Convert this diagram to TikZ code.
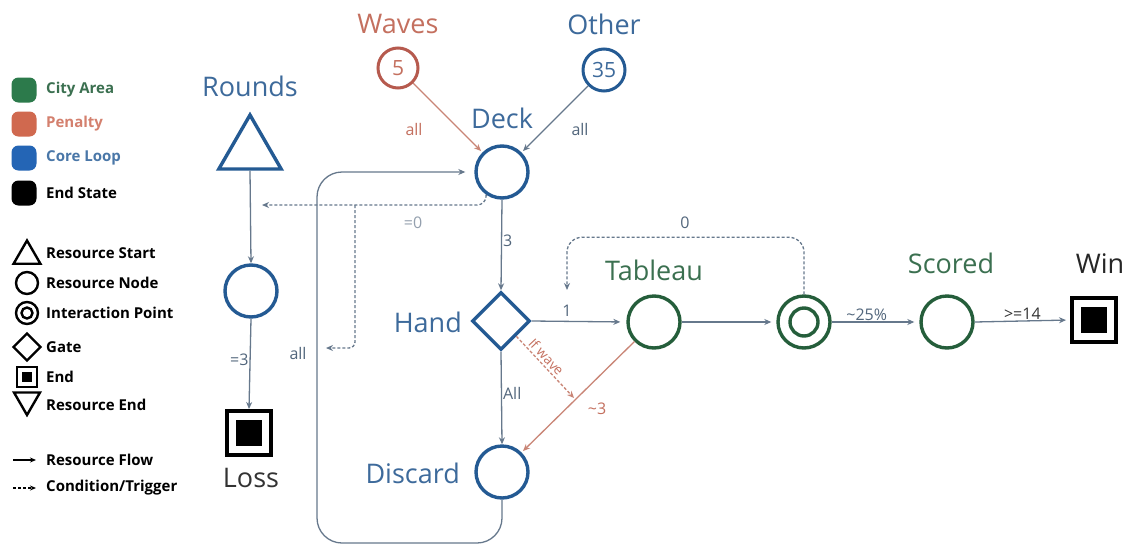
\documentclass[tikz,border=0pt]{standalone}
\usepackage{fontspec}
\setmainfont{Open Sans}
\usetikzlibrary{shapes.geometric,arrows.meta}

\definecolor{coreblue}{HTML}{245A93}
\definecolor{coretext}{HTML}{3D6A9B}
\definecolor{citygreen}{HTML}{255E3B}
\definecolor{citytext}{HTML}{3B7050}
\definecolor{penred}{HTML}{B65A4E}
\definecolor{pentext}{HTML}{C4705F}
\definecolor{flowgray}{HTML}{66788C}
\definecolor{flowtext}{HTML}{52667C}
\definecolor{penflow}{HTML}{C98576}
\definecolor{keygreen}{HTML}{2C7A4B}
\definecolor{keyred}{HTML}{D0694F}
\definecolor{keyblue}{HTML}{2465B5}
\definecolor{keytextred}{HTML}{D4806E}
\definecolor{keytextblue}{HTML}{4A77A8}

\tikzset{
  big/.style={font=\fontsize{27}{30}\selectfont, anchor=base, inner sep=0pt},
  small/.style={font=\fontsize{16}{18}\selectfont, inner sep=1pt},
  res/.style={circle, draw, line width=3.4pt, minimum size=52pt, inner sep=0pt},
  gatebox/.style={diamond, draw, line width=3.4pt, minimum size=58pt, inner sep=0pt},
  startbox/.style={regular polygon, regular polygon sides=3, draw, line width=3.4pt,
                   minimum size=72pt, inner sep=0pt},
  endbox/.style={rectangle, draw=black, line width=4pt, minimum size=44pt, inner sep=0pt,
                 path picture={\fill[black] (path picture bounding box.center)
                   ++(-13pt,-13pt) rectangle ++(26pt,26pt);}},
  flow/.style={draw=flowgray, line width=1.3pt, -{Stealth[length=7pt,width=6pt]}},
  penline/.style={draw=penflow, line width=1.3pt, -{Stealth[length=7pt,width=6pt]}},
  trig/.style={flow, dash pattern=on 3pt off 2pt},
  pentrig/.style={penline, dash pattern=on 3pt off 2pt},
  keysq/.style={rectangle, rounded corners=7pt, minimum size=25pt, inner sep=0pt},
  keytxt/.style={anchor=west, font=\bfseries\fontsize{15}{17}\selectfont, inner sep=0pt},
  keyshape/.style={draw=black, line width=2.4pt, inner sep=0pt},
}

\begin{document}
\begin{tikzpicture}[x=1pt,y=-1pt]
\useasboundingbox[fill=white] (0,0) rectangle (1131,549);

% ---------- colour key ----------
\node[keysq, fill=keygreen] (kcity) at (24,90) {};
\node[keytxt, text=citytext] (tcity) at (46,90) {City Area};
\node[keysq, fill=keyred] (kpen) at (24,124) {};
\node[keytxt, text=keytextred] (tpen) at (46,124) {Penalty};
\node[keysq, fill=keyblue] (kcore) at (24,158) {};
\node[keytxt, text=keytextblue] (tcore) at (46,158) {Core Loop};
\node[keysq, fill=black] (kend) at (24,193) {};
\node[keytxt, text=black] (tend) at (46,193) {End State};

% ---------- shape key ----------
\node[keyshape, regular polygon, regular polygon sides=3, minimum size=31pt] (kstart) at (27,256) {};
\node[keytxt] (tstart) at (46,253) {Resource Start};
\node[keyshape, circle, minimum size=22pt] (knode) at (27,283) {};
\node[keytxt] (tnode) at (46,283) {Resource Node};
\node[keyshape, circle, minimum size=22pt] (kip) at (27,313) {};
\draw[black, line width=2.4pt] (kip) circle[radius=5.5pt];
\node[keytxt] (tip) at (46,313) {Interaction Point};
\node[keyshape, diamond, minimum size=28pt] (kgate) at (27,347) {};
\node[keytxt] (tgate) at (46,347) {Gate};
\node[keyshape, rectangle, minimum size=20pt,
      path picture={\fill[black] (path picture bounding box.center)
        ++(-5pt,-5pt) rectangle ++(10pt,10pt);}] (kendsq) at (27,377) {};
\node[keytxt] (tendsq) at (46,377) {End};
\node[keyshape, regular polygon, regular polygon sides=3, shape border rotate=180,
      minimum size=30pt] (kresend) at (27,400) {};
\node[keytxt] (tresend) at (46,405) {Resource End};
\coordinate (kf1) at (13,460);
\coordinate (kf2) at (36,460);
\draw[black, line width=1.2pt, -{Stealth[length=6pt,width=5pt]}] (kf1) -- (kf2);
\node[keytxt] (tflow) at (46,460) {Resource Flow};
\coordinate (kt1) at (13,488);
\coordinate (kt2) at (36,488);
\draw[black, line width=1.2pt, dash pattern=on 3pt off 2pt, -{Stealth[length=6pt,width=5pt]}] (kt1) -- (kt2);
\node[keytxt] (ttrig) at (46,488) {Condition/Trigger};

% ---------- round counter ----------
\node[startbox, draw=coreblue] (rounds) at (250,151) {};
\node[big, text=coretext] (lrounds) at (250,96) {Rounds};
\node[res, draw=coreblue] (rcount) at (251,291) {};
\node[endbox] (loss) at (249,433) {};
\node[big, text=black!80] (lloss) at (251,487) {Loss};
\draw[flow] (rounds.south) -- (rcount.north);
\draw[flow] (rcount.south) -- node[small, left, text=flowtext, pos=0.45] (lcount) {=3} (loss.north);

% ---------- card sources ----------
\node[res, draw=penred, minimum size=40pt, line width=3pt,
      font=\fontsize{21}{24}\selectfont, text=pentext] (waves) at (398,68) {5};
\node[big, text=pentext] (lwaves) at (398,33) {Waves};
\node[res, draw=coreblue, minimum size=42pt, line width=3pt,
      font=\fontsize{21}{24}\selectfont, text=coretext] (other) at (604,70) {35};
\node[big, text=coretext] (lother) at (604,34) {Other};

% ---------- core loop ----------
\node[res, draw=coreblue] (deck) at (502,172) {};
\node[big, text=coretext] (ldeck) at (502,128) {Deck};
\node[gatebox, draw=coreblue] (hand) at (501,321) {};
\node[big, text=coretext, anchor=base east] (lhand) at (462,332) {Hand};
\node[res, draw=coreblue] (discard) at (502,472) {};
\node[big, text=coretext, anchor=base east] (ldiscard) at (460,483) {Discard};

\draw[penline, shorten >=2pt] (waves) -- (deck);
\node[small, text=pentext] (lwall) at (414,129) {all};
\draw[flow, shorten >=2pt] (other) -- (deck);
\node[small, text=flowtext] (loall) at (580,129) {all};

\draw[flow] (deck.south) -- node[small, right, text=flowtext, pos=0.45] (lthree) {3} (hand.north);
\draw[flow] (hand.south) -- node[small, right, text=flowtext, pos=0.45] (lall) {All} (discard.north);

% discard pile shuffled back into the deck
\coordinate (loopbot) at (317,543);
\draw[flow, rounded corners=25pt, shorten >=9pt] (discard.south) |- (loopbot) |- (deck.west);

% empty deck triggers
\coordinate (deckleft) at (262,205);
\coordinate (split) at (355,205);
\coordinate (reshuffle) at (326,348);
\draw[trig, rounded corners=9pt] (deck.235) |- (deckleft);
\draw[trig, rounded corners=6pt] (split) |- (reshuffle);
\node[small, text=flowgray!70] (lzero) at (413,223) {=0};
\node[small, text=flowtext] (lreall) at (298,353) {all};

% ---------- city area ----------
\node[res, draw=citygreen] (tableau) at (654,322) {};
\node[big, text=citytext] (ltableau) at (654,280) {Tableau};
\node[res, draw=citygreen] (ip) at (804,322) {};
\draw[citygreen, line width=3.4pt] (ip) circle[radius=14pt];
\node[res, draw=citygreen] (scored) at (947,322) {};
\node[big, text=citytext] (lscored) at (951,273) {Scored};
\node[endbox] (win) at (1094,320) {};
\node[big, text=black!85] (lwin) at (1100,273) {Win};

\draw[flow, shorten >=6pt] (hand.east) -- (tableau.west);
\node[small, text=flowtext] (lone) at (567,311) {1};
\draw[flow, shorten >=5pt] (tableau.east) -- (ip.west);
\draw[flow, shorten >=5pt] (ip.east) -- node[small, above, text=flowtext, pos=0.4] (lpct) {\textasciitilde25\%} (scored.west);
\draw[flow, shorten >=4pt] (scored.east) -- node[small, above, text=black!80, pos=0.5] (lge) {>=14} (win.west);

\coordinate (fillend) at (567,290);
\draw[trig, rounded corners=15pt] (ip.north) -- ++(0,-57) -| (fillend);
\node[small, text=flowtext] (lfill) at (685,223) {0};

% ---------- penalties ----------
\coordinate (waveend) at (574,398);
\draw[pentrig] (hand.south east) -- node[sloped, above=2pt, text=pentext, pos=0.42, inner sep=0pt,
      font=\fontsize{13.5}{15}\selectfont] (lwave) {If wave} (waveend);
\draw[penline, shorten >=2pt] (tableau.225) -- (discard.45);
\node[small, text=pentext] (lpen) at (597,409) {\textasciitilde3};

\end{tikzpicture}
\end{document}
